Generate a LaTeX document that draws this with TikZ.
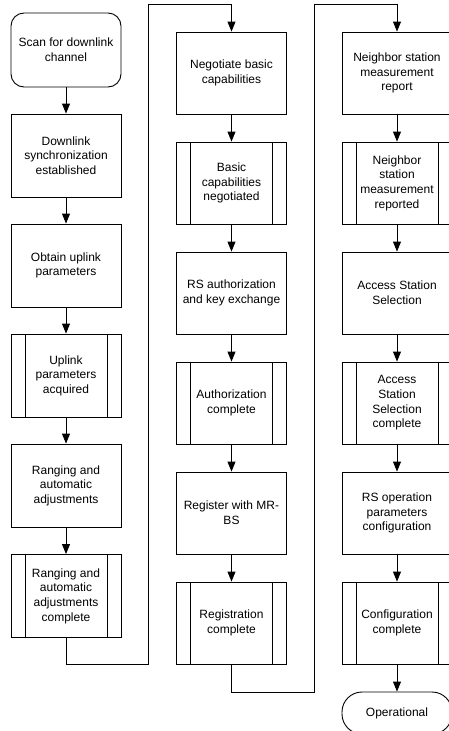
\documentclass[tikz,border=0pt]{standalone}
\usepackage{fontspec}
\setmainfont{Liberation Sans}
\usetikzlibrary{arrows.meta}
\tikzset{
  box/.style={draw=black, line width=0.9pt, fill=white, minimum width=110pt, minimum height=82pt,
    inner sep=0pt, align=center, font=\fontsize{12}{14.6}\selectfont},
  pproc/.style={box, path picture={
    \draw[line width=0.9pt] ([xshift=14pt]path picture bounding box.north west) -- ([xshift=14pt]path picture bounding box.south west);
    \draw[line width=0.9pt] ([xshift=-14pt]path picture bounding box.north east) -- ([xshift=-14pt]path picture bounding box.south east);}},
  term/.style={box, rounded corners=13pt},
  link/.style={draw=black, line width=0.9pt, -{Triangle[length=10pt,width=8pt]}},
  plain/.style={draw=black, line width=0.9pt}
}
\begin{document}
\begin{tikzpicture}[x=1pt,y=-1pt]
\clip (0,0) rectangle (449,731);
\fill[white] (0,0) rectangle (449,731);
% column 1
\node[term, minimum height=74pt] (a1) at (66,50) {Scan for downlink\\channel};
\node[box, minimum height=83pt] (a2) at (66,155.5) {Downlink\\synchronization\\established};
\node[box, minimum height=83pt] (a3) at (66,265.5) {Obtain uplink\\parameters};
\node[pproc, minimum height=83pt] (a4) at (66,375.5) {Uplink\\parameters\\acquired};
\node[box, minimum height=83pt] (a5) at (66,485.5) {Ranging and\\automatic\\adjustments};
\node[pproc, minimum height=83pt] (a6) at (66,596) {Ranging and\\automatic\\adjustments\\complete};
% column 2
\node[box] (b1) at (231.5,73) {Negotiate basic\\capabilities};
\node[pproc] (b2) at (231.5,183) {Basic\\capabilities\\negotiated};
\node[box] (b3) at (231.5,293) {RS authorization\\and key exchange};
\node[pproc] (b4) at (231.5,403) {Authorization\\complete};
\node[box] (b5) at (231.5,513) {Register with MR-\\BS};
\node[pproc] (b6) at (231.5,623) {Registration\\complete};
% column 3
\node[box] (c1) at (397,73) {Neighbor station\\measurement\\report};
\node[pproc] (c2) at (397,183) {Neighbor\\station\\measurement\\reported};
\node[box] (c3) at (397,293) {Access Station\\Selection};
\node[pproc] (c4) at (397,403) {Access\\Station\\Selection\\complete};
\node[box] (c5) at (397,513) {RS operation\\parameters\\configuration};
\node[pproc] (c6) at (397,623) {Configuration\\complete};
\node[term, rounded corners=20pt, minimum height=42pt] (c7) at (397,713) {Operational};
% arrows
\foreach \u/\v in {a1/a2,a2/a3,a3/a4,a4/a5,a5/a6,b1/b2,b2/b3,b3/b4,b4/b5,b5/b6,c1/c2,c2/c3,c3/c4,c4/c5,c5/c6,c6/c7}
  \draw[link] (\u.south) -- (\v.north);
% column links
\coordinate (p1) at (66,664);
\coordinate (p2) at (148,664);
\coordinate (p3) at (148,4.5);
\coordinate (p4) at (231.5,4.5);
\draw[link] (a6.south) -- (p1) -- (p2) -- (p3) -- (p4) -- (b1.north);
\coordinate (q1) at (231.5,692);
\coordinate (q2) at (314,692);
\coordinate (q3) at (314,4.5);
\coordinate (q4) at (397,4.5);
\draw[link] (b6.south) -- (q1) -- (q2) -- (q3) -- (q4) -- (c1.north);
\end{tikzpicture}
\end{document}
